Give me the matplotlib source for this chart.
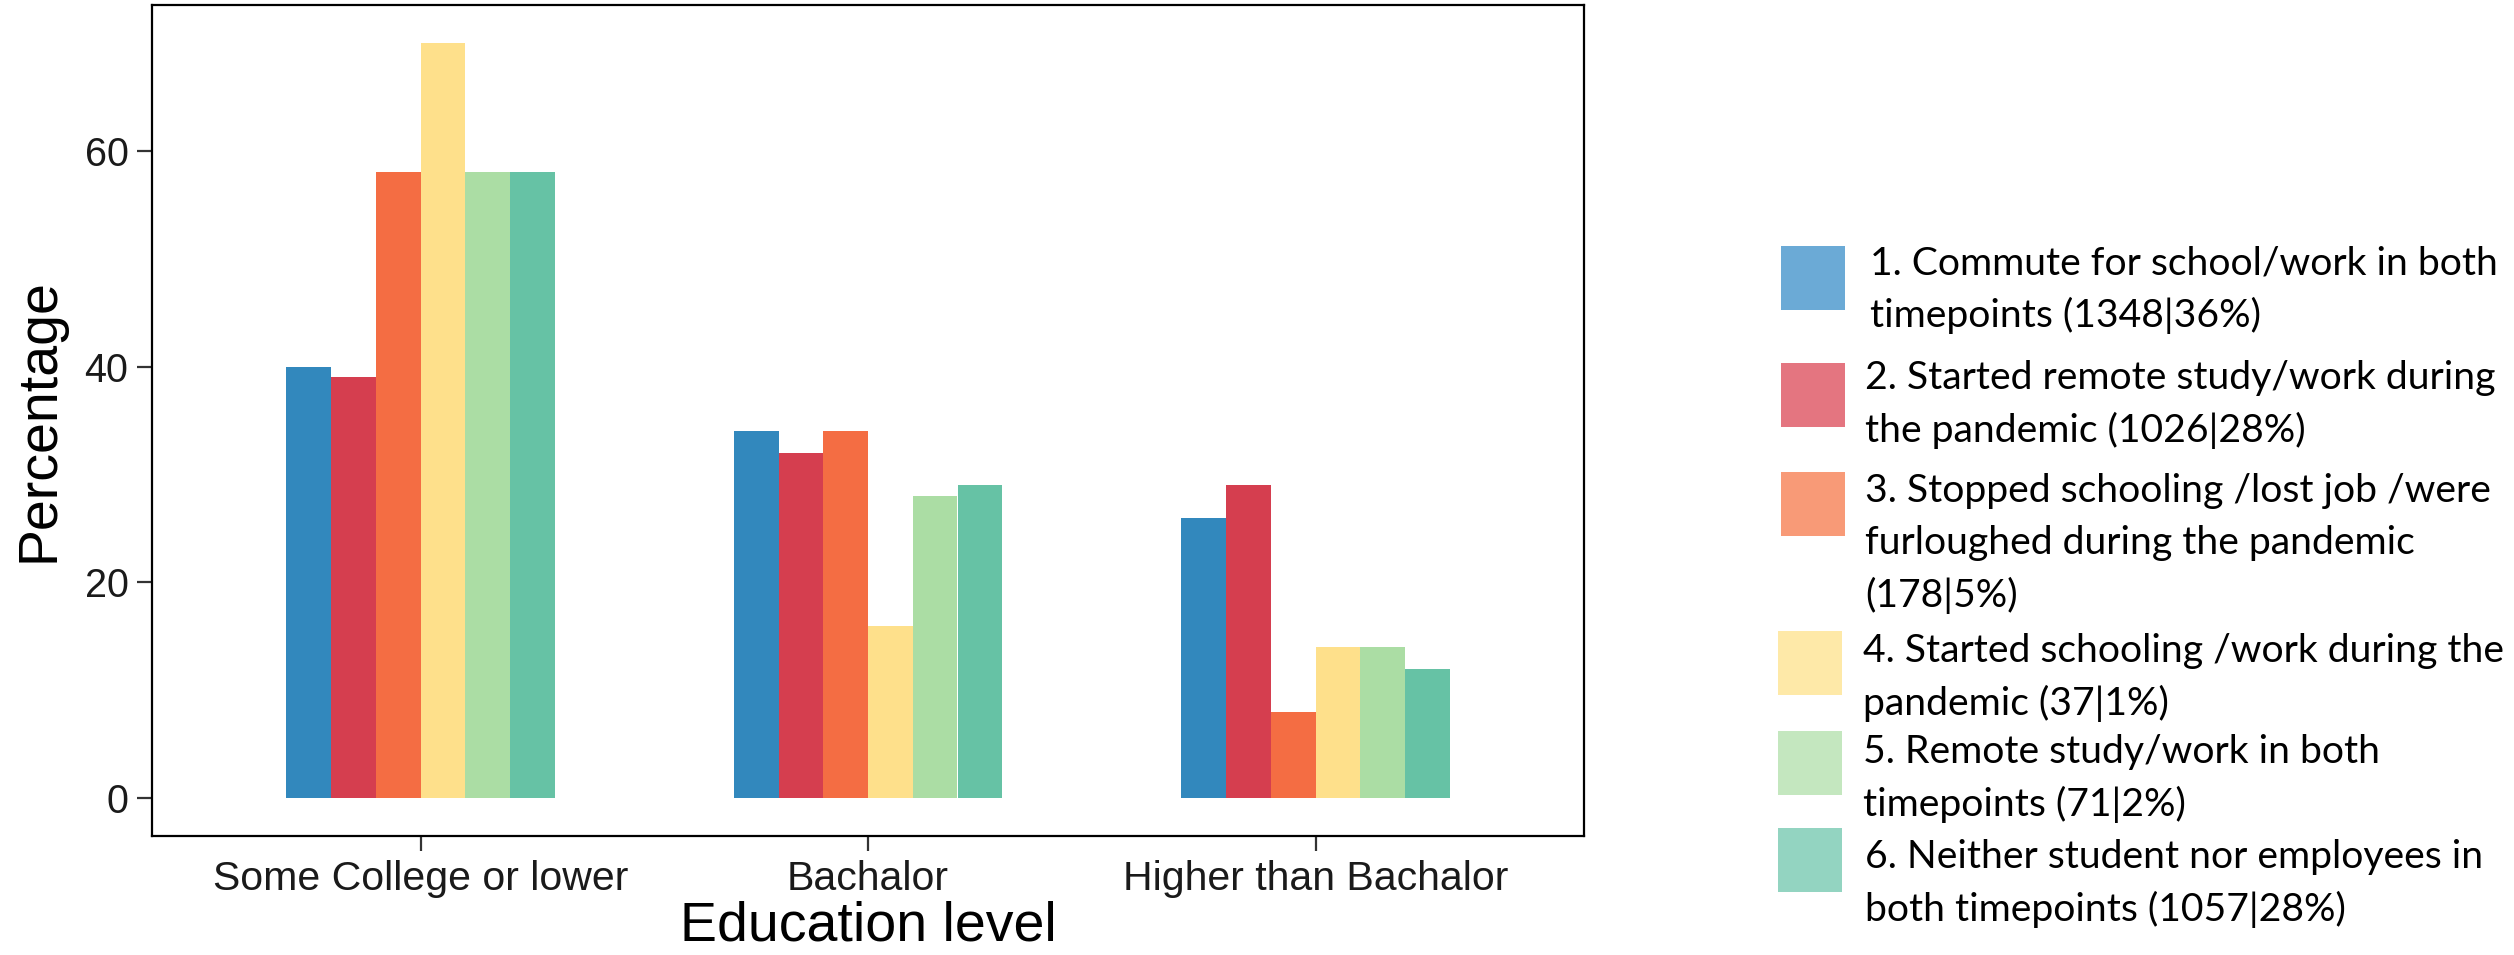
import numpy as np
import matplotlib
matplotlib.use("Agg")
import matplotlib.pyplot as plt
from matplotlib.patches import Rectangle

# data
education = ["Some College or lower", "Bachalor", "Higher than Bachalor"]
groups = [
    "1. Commute for school/work in both\ntimepoints (1348|36%)",
    "2. Started remote study/work during\nthe pandemic (1026|28%)",
    "3. Stopped schooling /lost job /were\nfurloughed during the pandemic\n(178|5%)",
    "4. Started schooling /work during the\npandemic (37|1%)",
    "5. Remote study/work in both\ntimepoints (71|2%)",
    "6. Neither student nor employees in\nboth timepoints (1057|28%)",
]
commute = [40, 34, 26]
started_remote = [39, 32, 29]
stopped = [58, 34, 8]
started_work = [70, 16, 14]
remote_both = [58, 28, 14]
neither = [58, 29, 12]
values = [commute, started_remote, stopped, started_work, remote_both, neither]

bar_colors = ["#3288BD", "#D53E4F", "#F46D43", "#FEE08B", "#ABDDA4", "#66C2A5"]
legend_colors = ["#6BAAD6", "#E47580", "#F89A77", "#FEE9A8", "#C4E7BF", "#93D4C1"]

W, H = 2514, 955
fig = plt.figure(figsize=(W / 100, H / 100), dpi=100)
ax = fig.add_axes([152 / W, 1 - 836 / H, (1584 - 152) / W, (836 - 5) / H])

x = np.arange(1, len(education) + 1)
width = 0.1
for i, vals in enumerate(values):
    ax.bar(x - 0.25 + i * width, vals, width=width, color=bar_colors[i], linewidth=0)

ax.set_xlim(0.4, 3.6)
ax.set_ylim(-3.5, 73.5)
ax.set_yticks([0, 20, 40, 60])
ax.set_xticks(x)
ax.set_xticklabels(education)
for s in ax.spines.values():
    s.set_linewidth(1.6)
    s.set_color("black")
ax.tick_params(axis="both", length=11, width=1.6, color="#333333",
               labelsize=28.5, labelcolor="#1a1a1a", pad=6)
ax.tick_params(axis="x", labelsize=29.5)
for lab in ax.get_xticklabels() + ax.get_yticklabels():
    lab.set_family("Liberation Sans")
ax.set_ylabel("Percentage", fontsize=40, family="Liberation Sans", labelpad=14)
ax.set_xlabel("Education level", fontsize=40, family="Liberation Sans", labelpad=2)

# legend drawn by hand
square_tops = [246, 363, 472, 631, 731, 828]
square_x = [1781, 1781, 1781, 1778, 1778, 1778]
text_x = [1870, 1865, 1865, 1863, 1863, 1865]
first_line = [263, 378, 491, 651, 752, 857]
line_gap = 52
sq = 64
for i, lab in enumerate(groups):
    fig.patches.append(Rectangle((square_x[i] / W, 1 - (square_tops[i] + sq) / H),
                                 sq / W, sq / H, transform=fig.transFigure,
                                 color=legend_colors[i], linewidth=0))
    for j, line in enumerate(lab.split("\n")):
        fig.text(text_x[i] / W, 1 - (first_line[i] + j * line_gap) / H, line,
                 fontsize=28.2, family="Lato", va="center", ha="left", color="black")

fig.savefig("out.png", dpi=100)
